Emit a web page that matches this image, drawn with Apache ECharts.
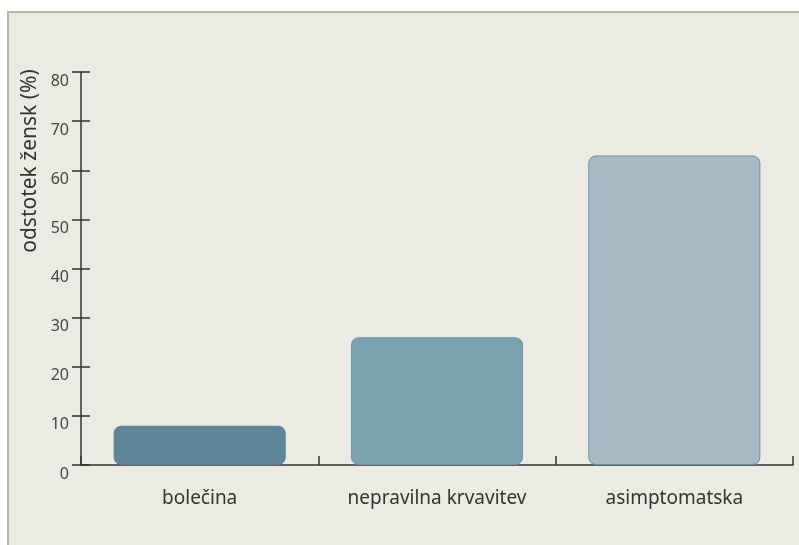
<!DOCTYPE html>
<html>
<head>
<meta charset="utf-8">
<script src="https://cdn.jsdelivr.net/npm/echarts@6/dist/echarts.min.js"></script>
<style>
  html, body { margin: 0; padding: 0; background: #ffffff; }
  #chart { width: 799px; height: 545px; }
</style>
</head>
<body>
<div id="chart"></div>
<script>
// podatki
var categories = ['bolečina', 'nepravilna krvavitev', 'asimptomatska'];
var values = [8, 26, 63];
var yTicks = [0, 10, 20, 30, 40, 50, 60, 70, 80];
var yTitle = 'odstotek žensk (%)';

// barve stolpcev
var barColors = ['#5f8596', '#7aa1b0', '#a8bac4'];
var barBorders = ['#5a8092', '#6f97a7', '#6a8fa0'];

var chart = echarts.init(document.getElementById('chart'));
var font = 'Noto Sans';
var axisCol = '#333';

var option = {
  backgroundColor: '#ffffff',
  animation: false,
  graphic: [
    {
      type: 'rect',
      z: -10,
      shape: { x: 8, y: 12, width: 820, height: 560 },
      style: { fill: '#ebebe4', stroke: '#b6b6a6', lineWidth: 2 }
    },
    {
      type: 'text',
      x: 30,
      y: 161,
      rotation: Math.PI / 2,
      style: {
        text: yTitle,
        fill: '#333',
        font: '21px "Noto Sans"',
        textAlign: 'center',
        textVerticalAlign: 'middle'
      }
    }
  ],
  grid: { left: 81, right: 6, top: 72, bottom: 80 },
  xAxis: {
    type: 'category',
    data: categories,
    axisLine: { show: true, lineStyle: { color: axisCol, width: 1.5 } },
    axisTick: { show: true, inside: true, length: 9, lineStyle: { color: axisCol, width: 1.5 } },
    axisLabel: { color: '#333', fontFamily: font, fontSize: 19, margin: 24 }
  },
  yAxis: [
    {
      // kljukice čez os: os zamaknjena v desno, daljše kljukice
      type: 'value',
      offset: -9,
      min: yTicks[0],
      max: yTicks[yTicks.length - 1],
      interval: 10,
      splitLine: { show: false },
      axisLine: { show: false },
      axisTick: { show: true, length: 18, lineStyle: { color: axisCol, width: 1.5 } },
      axisLabel: {
        color: '#444', fontFamily: font, fontSize: 16, margin: 21,
        verticalAlign: 'top', padding: [1, 0, 0, 0]
      }
    },
    {
      type: 'value',
      position: 'left',
      min: yTicks[0],
      max: yTicks[yTicks.length - 1],
      interval: 10,
      splitLine: { show: false },
      axisLine: { show: true, lineStyle: { color: axisCol, width: 1.5 } },
      axisTick: { show: false },
      axisLabel: { show: false }
    }
  ],
  series: [{
    type: 'bar',
    barWidth: '72.5%',
    data: values.map(function (v, i) {
      return {
        value: v,
        itemStyle: {
          color: barColors[i],
          borderColor: barBorders[i],
          borderWidth: 1,
          borderRadius: 7
        }
      };
    })
  }]
};

chart.setOption(option);
</script>
</body>
</html>
